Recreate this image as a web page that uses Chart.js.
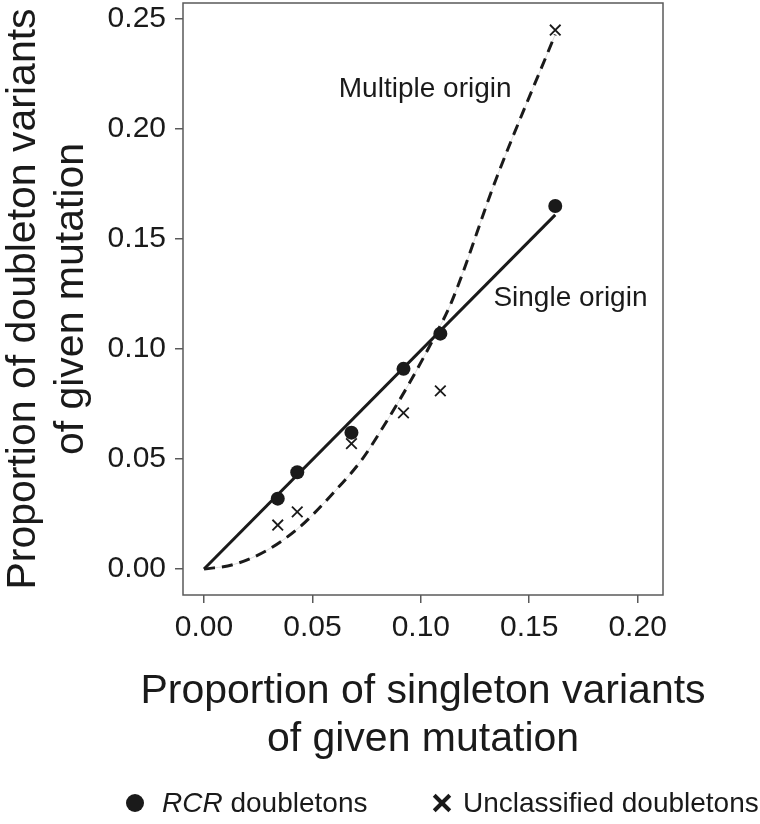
<!DOCTYPE html>
<html>
<head>
<meta charset="utf-8">
<script src="https://cdn.jsdelivr.net/npm/chart.js@4.4.1/dist/chart.umd.min.js"></script>
<style>
  body { margin: 0; background: #fff; }
  #wrap { position: relative; width: 760px; height: 824px; }
  #legend { position: absolute; left: 0; top: 786px; width: 760px; height: 34px;
            font: 28px "Liberation Sans", Arial, sans-serif; color: #1a1a1a; line-height: 34px; }
  #legend span { position: absolute; top: 0; white-space: nowrap; }
  .dot { position: absolute; width: 18px; height: 18px; border-radius: 50%; background: #1a1a1a; top: 8px; }
  .xbar { position: absolute; width: 22px; height: 4px; background: #1a1a1a; top: 15px; }
</style>
</head>
<body>
<div id="wrap">
  <canvas id="chart" width="760" height="824"></canvas>
  <div id="legend">
    <div class="dot" style="left:126px"></div>
    <span style="left:162px"><i>RCR</i> doubletons</span>
    <div class="xbar" style="left:431px; transform: rotate(45deg)"></div>
    <div class="xbar" style="left:431px; transform: rotate(-45deg)"></div>
    <span style="left:463px">Unclassified doubletons</span>
  </div>
</div>
<script>
// valores
const xTicks = [0, 0.05, 0.10, 0.15, 0.20];
const yTicks = [0, 0.05, 0.10, 0.15, 0.20, 0.25];

const rcrX = [0.034, 0.043, 0.068, 0.092, 0.109, 0.162];
const rcrY = [0.032, 0.044, 0.062, 0.091, 0.107, 0.165];
const unclX = [0.034, 0.043, 0.068, 0.092, 0.109, 0.162];
const unclY = [0.020, 0.026, 0.057, 0.071, 0.081, 0.245];

// curvas teóricas
const singleX = [0, 0.162];
const singleY = [0, 0.161];
const multiX = [0, 0.0135, 0.029, 0.044, 0.060, 0.073, 0.081, 0.095, 0.106, 0.114, 0.135, 0.162];
const multiY = [0, 0.002, 0.0085, 0.019, 0.035, 0.050, 0.062, 0.085, 0.105, 0.121, 0.178, 0.243];

// textos
const xTitle = ["Proportion of singleton variants", "of given mutation"];
const yTitle = ["Proportion of doubleton variants", "of given mutation"];
const noteText = ["Multiple origin", "Single origin"];
const noteX = [0.102, 0.169];
const noteY = [0.218, 0.123];

const pts = (xs, ys) => xs.map((x, i) => ({ x: x, y: ys[i] }));
const ink = "#1a1a1a";
const fontFam = '"Liberation Sans", Arial, sans-serif';
Chart.defaults.font.family = fontFam;
Chart.defaults.color = ink;

const boxPlugin = {
    id: "box",
    beforeDatasetsDraw(chart) {
        const a = chart.chartArea, c = chart.ctx;
        c.save();
        c.strokeStyle = "#5a5a5a";
        c.lineWidth = 1.5;
        c.strokeRect(a.left, a.top, a.right - a.left, a.bottom - a.top);
        c.restore();
    },
    afterDatasetsDraw(chart) {
        const c = chart.ctx, xs = chart.scales.x, ys = chart.scales.y, a = chart.chartArea;
        c.save();
        c.fillStyle = ink;
        c.textAlign = "center";
        c.textBaseline = "middle";
        c.font = "28px " + fontFam;
        noteText.forEach((t, i) => c.fillText(t, xs.getPixelForValue(noteX[i]), ys.getPixelForValue(noteY[i])));
        // titulos dos eixos (sem maxWidth, para não comprimir)
        c.font = "41px " + fontFam;
        const cx = (a.left + a.right) / 2;
        xTitle.forEach((t, i) => c.fillText(t, cx, 692 + i * 48));
        c.translate(0, (a.top + a.bottom) / 2);
        c.rotate(-Math.PI / 2);
        yTitle.forEach((t, i) => c.fillText(t, 0, 24 + i * 48));
        c.restore();
    }
};

const axisGrid = { drawOnChartArea: false, drawTicks: true, tickLength: 8, color: "#5a5a5a", lineWidth: 1.5 };
const noPad = s => { s.paddingTop = 0; s.paddingBottom = 0; s.paddingLeft = 0; s.paddingRight = 0; };

new Chart(document.getElementById("chart").getContext("2d"), {
    type: "scatter",
    data: {
        datasets: [
            { label: "RCR doubletons", data: pts(rcrX, rcrY), pointStyle: "circle",
              pointRadius: 7, backgroundColor: ink, borderColor: ink, borderWidth: 0 },
            { label: "Unclassified doubletons", data: pts(unclX, unclY), pointStyle: "crossRot",
              pointRadius: 7.5, borderColor: ink, borderWidth: 1.8, backgroundColor: ink },
            { label: "Single origin", data: pts(singleX, singleY), showLine: true,
              borderColor: ink, borderWidth: 3, pointRadius: 0 },
            { label: "Multiple origin", data: pts(multiX, multiY), showLine: true, cubicInterpolationMode: "monotone",
              borderColor: ink, borderWidth: 3, borderDash: [11, 7], pointRadius: 0 },
            { label: "guide", data: pts(multiX, multiY), showLine: true, cubicInterpolationMode: "monotone",
              borderColor: "#dddddd", borderWidth: 1, pointRadius: 0 }
        ]
    },
    options: {
        responsive: false,
        animation: false,
        layout: { autoPadding: false, padding: { top: 3, right: 97, left: 0, bottom: 54 } },
        plugins: { legend: { display: false }, tooltip: { enabled: false } },
        scales: {
            x: {
                type: "linear",
                min: -0.0097, max: 0.2117,
                border: { display: false },
                grid: axisGrid,
                afterBuildTicks: s => { s.ticks = xTicks.map(v => ({ value: v })); },
                afterFit: s => { s.height = 175; noPad(s); },
                ticks: { font: { size: 30 }, color: ink, padding: 7, callback: v => v.toFixed(2) },
                title: { display: false }
            },
            y: {
                type: "linear",
                min: -0.0118, max: 0.2573,
                border: { display: false },
                grid: axisGrid,
                afterBuildTicks: s => { s.ticks = yTicks.map(v => ({ value: v })); },
                afterFit: s => { s.width = 183; noPad(s); },
                ticks: { font: { size: 30 }, color: ink, padding: 9, callback: v => v.toFixed(2) },
                title: { display: false }
            }
        }
    },
    plugins: [boxPlugin]
});
</script>
</body>
</html>
